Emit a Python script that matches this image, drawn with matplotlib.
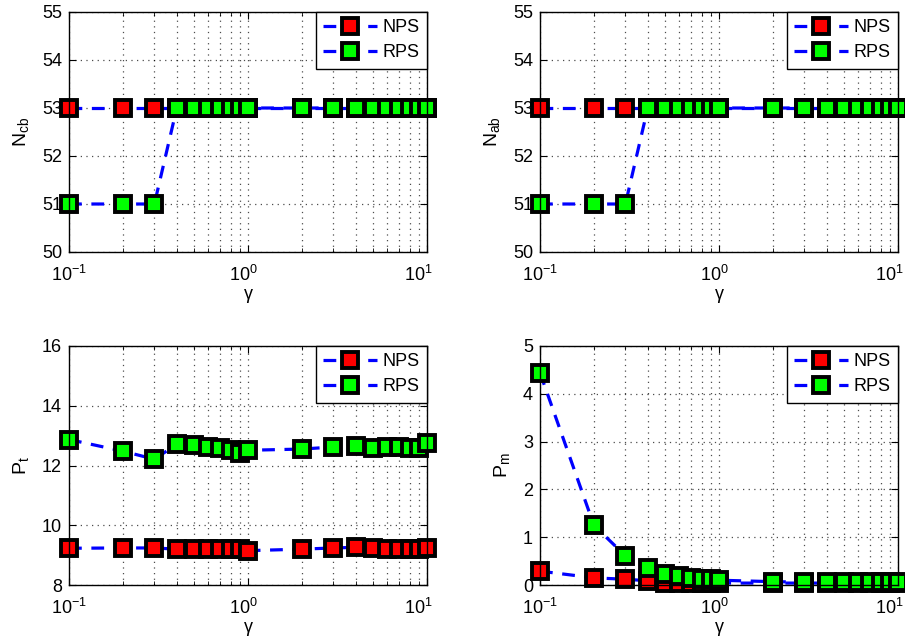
import matplotlib
matplotlib.use("Agg")
import matplotlib.pyplot as plt
import matplotlib.transforms as mtransforms
from matplotlib.ticker import LogLocator, NullFormatter

plt.rcParams['font.family'] = ['Liberation Sans', 'DejaVu Sans']
plt.rcParams['mathtext.fontset'] = 'custom'
plt.rcParams['mathtext.rm'] = 'Liberation Sans'
plt.rcParams['mathtext.it'] = 'Liberation Sans:italic'
plt.rcParams['mathtext.default'] = 'regular'

gamma = [0.1, 0.2, 0.3, 0.4, 0.5, 0.6, 0.7, 0.8, 0.9, 1, 2, 3, 4, 5, 6, 7, 8, 9, 10]

ncb_nps = [53] * 19
ncb_rps = [51, 51, 51] + [53] * 16
nab_nps = [53] * 19
nab_rps = [51, 51, 51] + [53] * 16
pt_nps = [9.23, 9.24, 9.24, 9.20, 9.22, 9.22, 9.20, 9.20, 9.20, 9.15,
          9.20, 9.24, 9.26, 9.24, 9.22, 9.22, 9.22, 9.22, 9.24]
pt_rps = [12.87, 12.48, 12.21, 12.71, 12.69, 12.62, 12.60, 12.51, 12.42, 12.51,
          12.55, 12.62, 12.64, 12.60, 12.62, 12.62, 12.60, 12.57, 12.74]
pm_nps = [0.29, 0.15, 0.12, 0.09, 0.05, 0.04, 0.04, 0.04, 0.04, 0.04,
          0.04, 0.04, 0.04, 0.04, 0.04, 0.04, 0.04, 0.04, 0.04]
pm_rps = [4.44, 1.25, 0.61, 0.35, 0.24, 0.19, 0.15, 0.13, 0.12, 0.10,
          0.07, 0.06, 0.06, 0.06, 0.06, 0.06, 0.06, 0.06, 0.06]

panels = [
    (ncb_nps, ncb_rps, r'$N_{cb}$', (50, 55), [50, 51, 52, 53, 54, 55]),
    (nab_nps, nab_rps, r'$N_{ab}$', (50, 55), [50, 51, 52, 53, 54, 55]),
    (pt_nps, pt_rps, r'$P_{t}$', (8, 16), [8, 10, 12, 14, 16]),
    (pm_nps, pm_rps, r'$P_{m}$', (0, 5), [0, 1, 2, 3, 4, 5]),
]

fig = plt.figure(figsize=(9.05, 6.44), dpi=100)
W, H = 905, 644
boxes = [(69, 12, 427, 252), (540, 12, 898, 252),
         (69, 346, 427, 585), (540, 346, 898, 585)]
xlabel_shift_px = [0, -5, -9]

for (nps, rps, ylab, ylim, yt), (x0, y0, x1, y1) in zip(panels, boxes):
    ax = fig.add_axes([x0 / W, 1 - y1 / H, (x1 - x0) / W, (y1 - y0) / H])
    kw = dict(color='blue', linestyle='--', dashes=(4, 3), linewidth=2.3,
              marker='s', markersize=11, markeredgecolor='black',
              markeredgewidth=2.8, clip_on=False)
    ax.plot(gamma, nps, markerfacecolor='red', label='NPS', **kw)
    ax.plot(gamma, rps, markerfacecolor='#00ff00', label='RPS', **kw)
    ax.set_xscale('log')
    ax.set_xlim(0.1, 10)
    ax.set_ylim(*ylim)
    ax.set_yticks(yt)
    ax.set_xticks([0.1, 1, 10])
    ax.xaxis.set_minor_locator(LogLocator(base=10, subs=range(2, 10)))
    ax.xaxis.set_minor_formatter(NullFormatter())
    gkw = dict(color='black', linestyle=(0, (1, 3.5)), linewidth=0.9, alpha=0.7)
    ax.grid(True, which='major', axis='both', **gkw)
    ax.grid(True, which='minor', axis='x', **gkw)
    ax.set_axisbelow(True)
    ax.tick_params(which='both', direction='in', top=True, right=True, labelsize=13)
    ax.tick_params(which='major', length=5)
    ax.tick_params(which='minor', length=3)
    ax.tick_params(axis='x', which='major', pad=9)
    ax.tick_params(axis='y', which='major', pad=5)
    ax.set_xlabel('γ', fontsize=13, labelpad=1)
    ax.set_ylabel(ylab, fontsize=14, labelpad=8)
    for lbl, dx in zip(ax.get_xticklabels(), xlabel_shift_px):
        lbl.set_transform(lbl.get_transform() +
                          mtransforms.ScaledTranslation(dx / 100, 0, fig.dpi_scale_trans))
    for s in ax.spines.values():
        s.set_linewidth(1.0)
    leg = ax.legend(loc='upper right', fontsize=13, frameon=True, fancybox=False,
                    edgecolor='black', framealpha=1, borderaxespad=0,
                    handlelength=3.0, borderpad=0.4, labelspacing=0.45, handletextpad=0.3)
    leg.get_frame().set_linewidth(1.0)

fig.savefig('out.png', dpi=100)
